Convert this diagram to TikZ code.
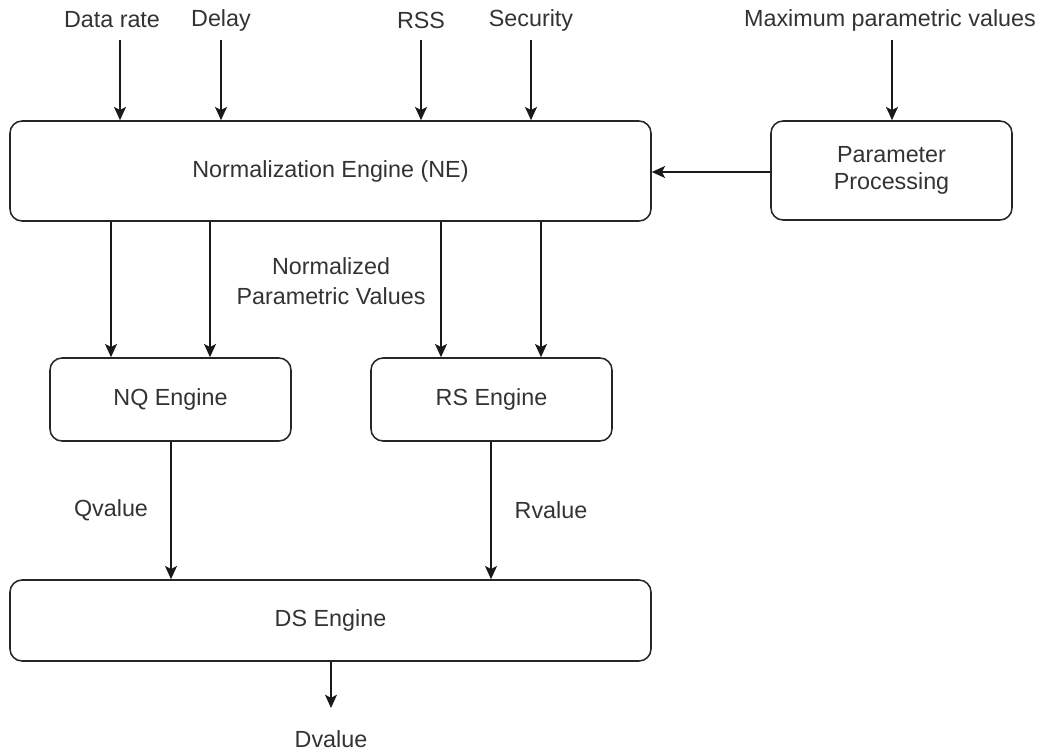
\documentclass[tikz,border=0pt]{standalone}
\usepackage{fontspec}
\setmainfont{Liberation Sans}
\usetikzlibrary{arrows.meta}
\begin{document}
\begin{tikzpicture}[x=0.75pt,y=-0.75pt,
  every node/.style={text=black!80, font=\fontsize{17.5}{21}\selectfont},
  engine/.style={draw=black!85, line width=1.15pt, rounded corners=9pt, align=center},
  wide/.style={engine, minimum width=480.75pt},
  small/.style={engine, minimum width=180.75pt},
  lbl/.style={inner sep=0pt, align=center},
  arr/.style={draw=black!90, line width=1.15pt, -{Stealth[length=10pt,width=9pt,inset=2.4pt]}}]
  \useasboundingbox (0,0) rectangle (1050,753);

  % boxes
  \node[wide, minimum height=75pt] (ne) at (330.5,171) {Normalization Engine (NE)};
  \node[small, minimum height=74.25pt] (pp) at (891.5,170.5) {Parameter\\[-1pt]Processing};
  \node[small, minimum height=62.25pt] (nq) at (170.5,399.5) {NQ Engine};
  \node[small, minimum height=62.25pt] (rs) at (491.5,399.5) {RS Engine};
  \node[wide, minimum height=60.75pt] (ds) at (330.5,620.5) {DS Engine};

  % input labels
  \node[lbl] (ldr) at (112,20) {Data rate};
  \node[lbl] (lde) at (221,20) {Delay};
  \node[lbl] (lrss) at (421,20) {RSS};
  \node[lbl] (lsec) at (531,20) {Security};
  \node[lbl] (lmax) at (890,20) {Maximum parametric values};

  % arrow origins below the input labels
  \coordinate (cdr) at (120,40);
  \coordinate (cde) at (221,40);
  \coordinate (crss) at (421,40);
  \coordinate (csec) at (531,40);
  \coordinate (cmax) at (892,40);

  \draw[arr] (cdr) -- (cdr |- ne.north);
  \draw[arr] (cde) -- (cde |- ne.north);
  \draw[arr] (crss) -- (crss |- ne.north);
  \draw[arr] (csec) -- (csec |- ne.north);
  \draw[arr] (cmax) -- (cmax |- pp.north);
  \draw[arr] (pp.west |- 0,172) -- (ne.east |- 0,172);

  % normalized values to the engines
  \draw[arr] (ne.south -| 111,0) -- (nq.north -| 111,0);
  \draw[arr] (ne.south -| 210,0) -- (nq.north -| 210,0);
  \draw[arr] (ne.south -| 441,0) -- (rs.north -| 441,0);
  \draw[arr] (ne.south -| 541,0) -- (rs.north -| 541,0);
  \node[lbl] (lnorm) at (331,281) {Normalized\\[2pt]Parametric Values};

  % engine outputs
  \draw[arr] (nq.south -| 171,0) -- (ds.north -| 171,0);
  \draw[arr] (rs.south -| 491,0) -- (ds.north -| 491,0);
  \node[lbl] (lq) at (111,510) {Qvalue};
  \node[lbl] (lr) at (551,510) {Rvalue};

  \coordinate (cdv) at (331,708);
  \draw[arr] (ds.south -| cdv) -- (cdv);
  \node[lbl] (ldv) at (331,739) {Dvalue};
\end{tikzpicture}
\end{document}
